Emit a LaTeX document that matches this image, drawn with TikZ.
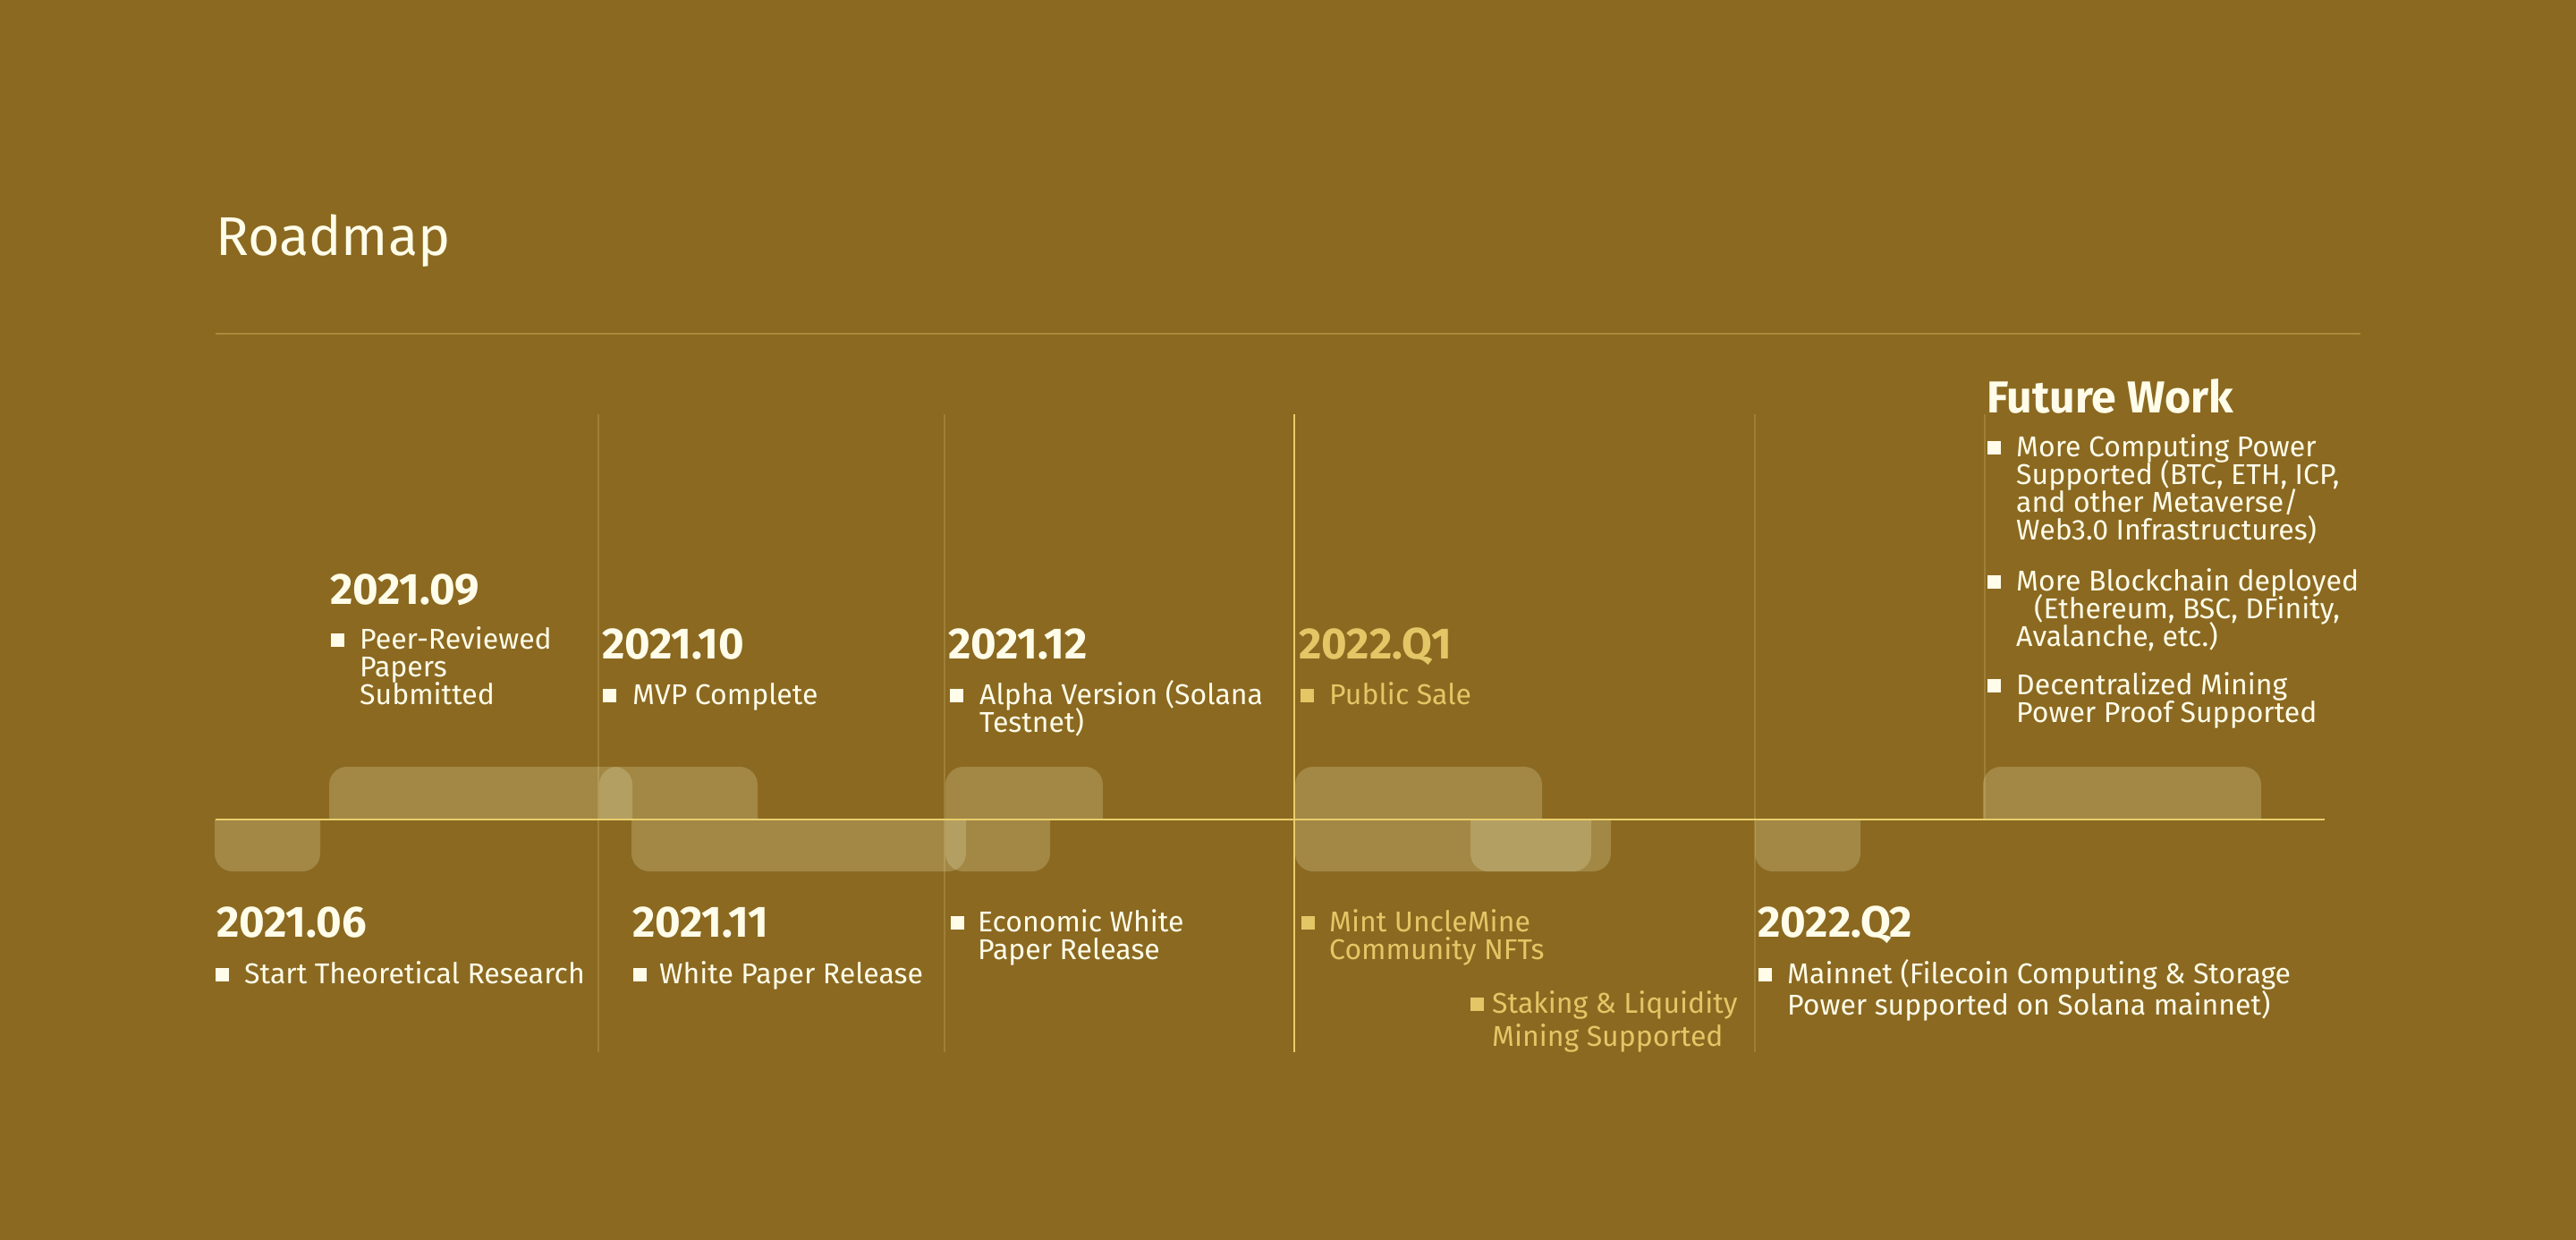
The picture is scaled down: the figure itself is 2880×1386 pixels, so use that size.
\documentclass[tikz,border=0pt]{standalone}
\usepackage{fontspec}
\setmainfont{Fira Sans}
\definecolor{bg}{HTML}{8B6921}
\definecolor{cream}{HTML}{FFFDE9}
\definecolor{gold}{HTML}{E3C766}
\definecolor{axisc}{HTML}{E8CE6A}
\definecolor{rulec}{HTML}{A98B3B}
\definecolor{vlinec}{HTML}{9E7F38}
\definecolor{boxc}{RGB}{255,255,215}
\newcommand\lns[2]{\vtop{\baselineskip=#1\lineskiplimit=-1000pt\lineskip=0pt #2}}
\tikzset{
  titlef/.style={anchor=base west, inner sep=0pt, text=cream, font={\fontsize{61}{61}\selectfont}},
  head/.style={anchor=base west, inner sep=0pt, text=cream, font={\fontsize{49}{49}\selectfont\bfseries}},
  yhead/.style={head, text=gold},
  fwhead/.style={head, font={\fontsize{50}{50}\selectfont\bfseries}},
  txt/.style={anchor=base west, inner sep=0pt, text=cream, font={\fontsize{32}{31}\selectfont}},
  ytxt/.style={txt, text=gold},
  bul/.style={rectangle, inner sep=0pt, minimum size=15pt, fill=cream},
  ybul/.style={bul, fill=gold},
  boxf/.style={fill=boxc, fill opacity=0.2},
  thinv/.style={draw=vlinec, line width=1.6pt},
}
\newcommand\topbox[2]{\begin{scope}\clip (#1-5,800) rectangle (#2+5,916);\fill[boxf, rounded corners=20pt] (#1,857) rectangle (#2,960);\end{scope}}
\newcommand\botbox[2]{\begin{scope}\clip (#1-5,916) rectangle (#2+5,1030);\fill[boxf, rounded corners=20pt] (#1,870) rectangle (#2,974);\end{scope}}
\begin{document}
\begin{tikzpicture}[x=1pt,y=-1pt]
\fill[bg] (0,0) rectangle (2880,1386);
\useasboundingbox (0,0) rectangle (2880,1386);
% title and rule
\node[titlef] (title) at (241,285) {Roadmap};
\draw[rulec, line width=2pt] (241,373) -- (2639,373);
% vertical guide lines
\draw[thinv] (669,463) -- (669,1176);
\draw[thinv] (1056,463) -- (1056,1176);
\draw[axisc, line width=2.2pt] (1447,463) -- (1447,1176);
\draw[thinv] (1962,463) -- (1962,1176);
\draw[thinv] (2219,463) -- (2219,916);
% boxes above the axis
\topbox{368}{707}
\topbox{670}{847}
\topbox{1057}{1233}
\topbox{1448}{1724}
\topbox{2217}{2528}
% boxes below the axis
\botbox{240}{358}
\botbox{706}{1080}
\botbox{1057}{1174}
\botbox{1448}{1801}
\botbox{1644}{1779}
\botbox{1962}{2080}
% axis
\draw[axisc, line width=2.4pt] (241,916) -- (2599,916);
% headings
\node[head] (h06) at (242,1047) {2021.06};
\node[head] (h09) at (369,675) {2021.09};
\node[head] (h10) at (673,736) {2021.10};
\node[head] (h11) at (707,1047) {2021.11};
\node[head] (h12) at (1060,736) {2021.12};
\node[yhead] (hq1) at (1452,736) {2022.Q1};
\node[head] (hq2) at (1965,1047) {2022.Q2};
\node[fwhead] (hfw) at (2221,461) {Future Work};
% items
\node[bul] (b06) at (248,1089) {};
\node[txt] (t06) at (273,1099) {Start Theoretical Research};
\node[bul] (b09) at (377,715) {};
\node[txt] (t09) at (402,725) {\lns{31pt}{\hbox{Peer-Reviewed}\hbox{Papers}\hbox{Submitted}}};
\node[bul] (b10) at (681,777) {};
\node[txt] (t10) at (707,787) {MVP Complete};
\node[bul] (b12) at (1069,777) {};
\node[txt] (t12) at (1095,787) {\lns{31pt}{\hbox{Alpha Version (Solana}\hbox{Testnet)}}};
\node[ybul] (bq1) at (1461,777) {};
\node[ytxt] (tq1) at (1486,787) {Public Sale};
\node[bul] (b11) at (715,1089) {};
\node[txt] (t11) at (737,1099) {White Paper Release};
\node[bul] (be) at (1070,1031) {};
\node[txt] (te) at (1093,1041) {\lns{31pt}{\hbox{Economic White}\hbox{Paper Release}}};
\node[ybul] (bm) at (1462,1031) {};
\node[ytxt] (tm) at (1486,1041) {\lns{31pt}{\hbox{Mint UncleMine}\hbox{Community NFTs}}};
\node[ybul] (bs) at (1651,1122) {};
\node[ytxt] (ts) at (1668,1132) {\lns{37pt}{\hbox{Staking \& Liquidity}\hbox{Mining Supported}}};
\node[bul] (bq2) at (1973,1089) {};
\node[txt] (tq2) at (1998,1099) {\lns{35pt}{\hbox{Mainnet (Filecoin Computing \& Storage}\hbox{Power supported on Solana mainnet)}}};
\node[bul] (bf1) at (2229,500) {};
\node[txt] (tf1) at (2254,510) {\lns{31pt}{\hbox{More Computing Power}\hbox{Supported (BTC, ETH, ICP,}\hbox{and other Metaverse/}\hbox{Web3.0 Infrastructures)}}};
\node[bul] (bf2) at (2229,650) {};
\node[txt] (tf2) at (2254,660) {\lns{31pt}{\hbox{More Blockchain deployed}\hbox{\hspace{20pt}(Ethereum, BSC, DFinity,}\hbox{Avalanche, etc.)}}};
\node[bul] (bf3) at (2229,766) {};
\node[txt] (tf3) at (2254,776) {\lns{31pt}{\hbox{Decentralized Mining}\hbox{Power Proof Supported}}};
\end{tikzpicture}
\end{document}
